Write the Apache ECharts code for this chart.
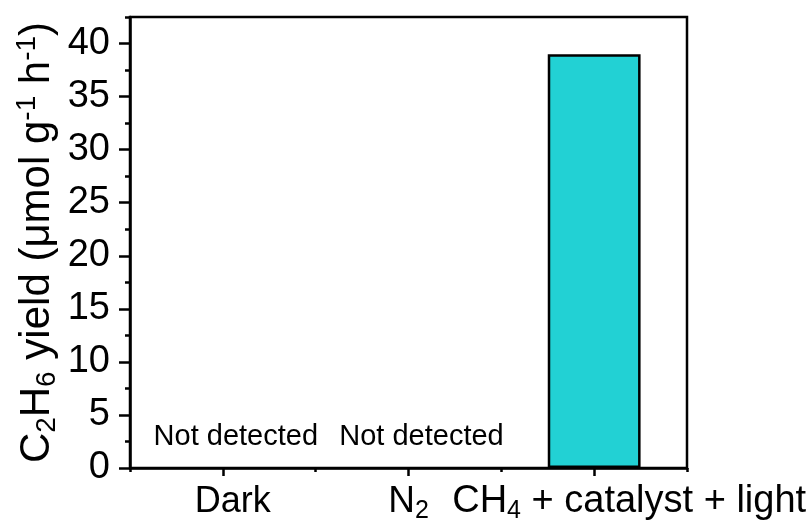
<!DOCTYPE html>
<html>
<head>
<meta charset="utf-8">
<script src="https://cdn.jsdelivr.net/npm/echarts@6/dist/echarts.min.js"></script>
<style>
html,body{margin:0;padding:0;background:#fff;}
#c{width:812px;height:524px;}
</style>
</head>
<body>
<div id="c"></div>
<script>
const categories = ['Dark', 'N2', 'CH4 + catalyst + light'];
const yieldValues = [0, 0, 39];
const yTickValues = [0, 5, 10, 15, 20, 25, 30, 35, 40];
const notDetectedText = 'Not detected';

const FONT = '"Liberation Sans", Arial, sans-serif';
const chart = echarts.init(document.getElementById('c'), null, {renderer: 'canvas'});

const seriesData = yieldValues.map(v => (v === 0 ? {value: v, itemStyle: {borderWidth: 0}} : {value: v}));

const option = {
  animation: false,
  grid: {left: 130, right: 125, top: 17, bottom: 56, show: true, borderColor: '#000', borderWidth: 2.5, backgroundColor: 'transparent'},
  xAxis: [{
    type: 'category',
    data: categories,
    boundaryGap: true,
    axisLine: {show: true, lineStyle: {color: '#000', width: 2.5}},
    axisTick: {show: true, alignWithLabel: true, length: 8, lineStyle: {color: '#000', width: 2.5}},
    axisLabel: {
      interval: 0,
      hideOverlap: false,
      margin: 12,
      formatter: function (v) {
        if (v === 'Dark') return '{dark|Dark}';
        if (v === 'N2') return '{n|N}{sub|2}';
        return '{pad|}{c|CH}{sub|4}{c| + catalyst + light}';
      },
      rich: {
        dark: {fontFamily: FONT, fontSize: 36, color: '#000', padding: [0, 0, 0, 20], lineHeight: 44},
        n: {fontFamily: FONT, fontSize: 37, color: '#000', lineHeight: 44},
        c: {fontFamily: FONT, fontSize: 38, color: '#000', lineHeight: 44},
        pad: {width: 70, fontSize: 38, lineHeight: 44},
        sub: {fontFamily: FONT, fontSize: 25, color: '#000', verticalAlign: 'bottom', lineHeight: 25}
      }
    }
  }, {
    type: 'category',
    data: categories,
    boundaryGap: true,
    position: 'bottom',
    axisLine: {show: false},
    axisTick: {show: true, length: 4, lineStyle: {color: '#000', width: 2.5}},
    axisLabel: {show: false}
  }],
  yAxis: [{
    type: 'value',
    min: 0,
    max: 42.5,
    interval: 5,
    splitLine: {show: false},
    axisLine: {show: true, lineStyle: {color: '#000', width: 2.5}},
    axisTick: {show: true, length: 11, customValues: yTickValues, lineStyle: {color: '#000', width: 2.5}},
    axisLabel: {customValues: yTickValues, margin: 20, fontFamily: FONT, fontSize: 38, color: '#000'},
    name: '{n|C}{sub|2}{n|H}{sub|6}{n| yield (μmol g}{sup|-1}{n| h}{sup|-1}{n|)}',
    nameLocation: 'middle',
    nameGap: 69,
    nameMoveOverlap: false,
    nameRotate: 90,
    nameTextStyle: {
      rich: {
        n: {fontFamily: FONT, fontSize: 42, color: '#000', lineHeight: 48},
        sub: {fontFamily: FONT, fontSize: 28, color: '#000', verticalAlign: 'bottom', lineHeight: 28},
        sup: {fontFamily: FONT, fontSize: 28, color: '#000', verticalAlign: 'top', lineHeight: 28}
      }
    }
  }, {
    type: 'value',
    min: 0,
    max: 42.5,
    interval: 2.5,
    position: 'left',
    splitLine: {show: false},
    axisLine: {show: false},
    axisTick: {show: true, length: 5, lineStyle: {color: '#000', width: 2.5}},
    axisLabel: {show: false}
  }],
  series: [{
    type: 'bar',
    xAxisIndex: 0,
    yAxisIndex: 0,
    data: seriesData,
    barWidth: '50%',
    itemStyle: {color: '#22D1D4', borderColor: '#000', borderWidth: 2.5},
    label: {
      show: true,
      position: 'top',
      distance: 17,
      offset: [13, 0],
      fontFamily: FONT,
      fontSize: 29,
      color: '#000',
      formatter: p => (p.value === 0 ? notDetectedText : '')
    }
  }]
};
chart.setOption(option);
</script>
</body>
</html>
